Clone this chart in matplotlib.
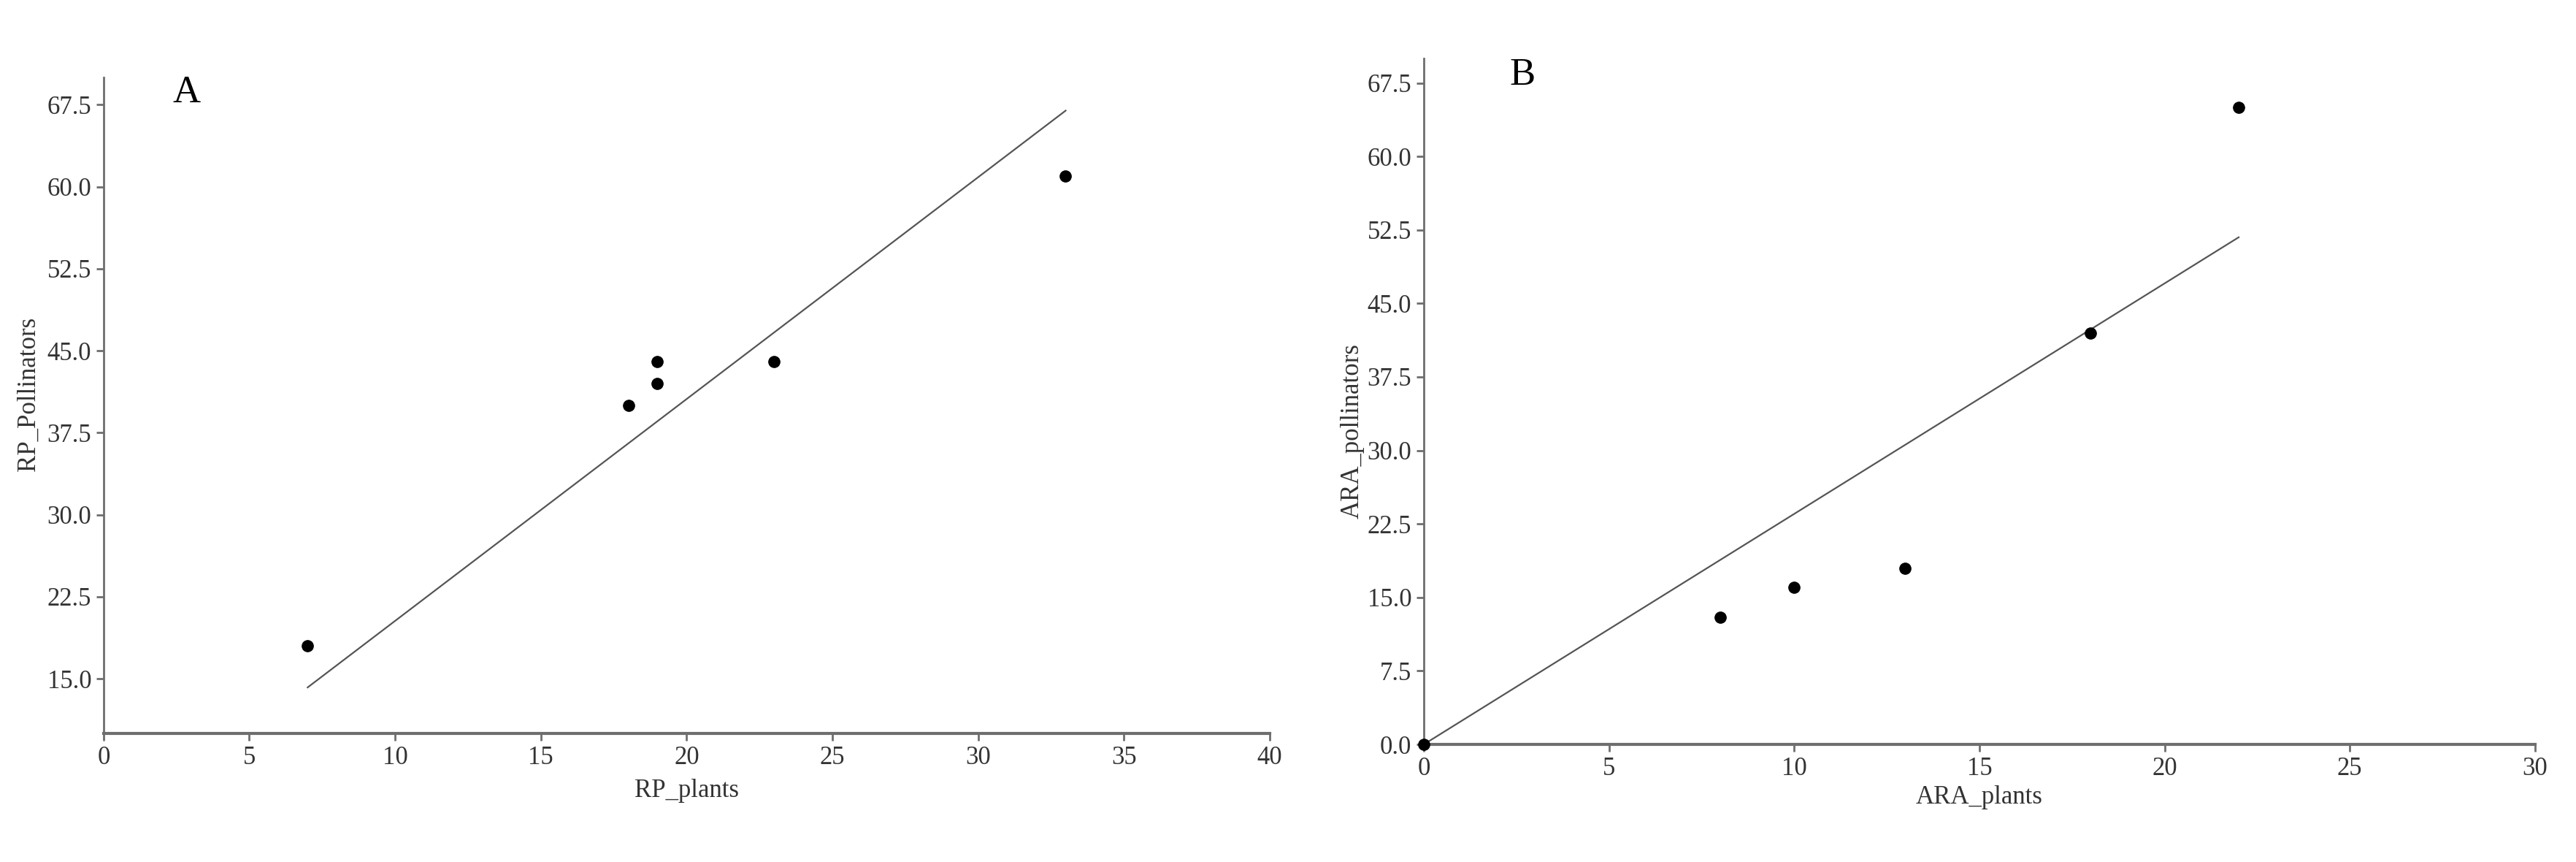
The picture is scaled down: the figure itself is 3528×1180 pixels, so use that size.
import numpy as np
import matplotlib
matplotlib.use('Agg')
import matplotlib.pyplot as plt

plt.rcParams['font.family'] = ['Liberation Serif', 'DejaVu Serif']

## Painel A: RP
rp_plants = [7, 18, 19, 19, 23, 33]
rp_pollinators = [18, 40, 42, 44, 44, 61]
rp_yticks = [15.0, 22.5, 30.0, 37.5, 45.0, 52.5, 60.0, 67.5]
rp_xticks = [0, 5, 10, 15, 20, 25, 30, 35, 40]

## Painel B: ARA
ara_plants = [0, 8, 10, 13, 18, 22]
ara_pollinators = [0, 13, 16, 18, 42, 65]
ara_yticks = [0.0, 7.5, 15.0, 22.5, 30.0, 37.5, 45.0, 52.5, 60.0, 67.5]
ara_xticks = [0, 5, 10, 15, 20, 25, 30]

axis_col = '#6e6e6e'
text_col = '#333333'


def fit_origem(x, y):
    # regressao passando pela origem
    x = np.asarray(x, float)
    y = np.asarray(y, float)
    b = (x * y).sum() / (x * x).sum()
    xs = np.array([x.min(), x.max()])
    return xs, b * xs


def estilo(ax, xlim, ylim, xticks, yticks):
    ax.set_xlim(*xlim)
    ax.set_ylim(*ylim)
    ax.set_xticks(xticks)
    ax.set_xticklabels([str(t) for t in xticks])
    ax.set_yticks(yticks)
    ax.set_yticklabels(['%.1f' % t for t in yticks])
    for s in ['top', 'right']:
        ax.spines[s].set_visible(False)
    ax.spines['left'].set_color(axis_col)
    ax.spines['left'].set_linewidth(2.0)
    ax.spines['bottom'].set_color(axis_col)
    ax.spines['bottom'].set_linewidth(3.0)
    ax.tick_params(axis='both', colors=axis_col, length=7, width=2,
                   labelsize=25, labelcolor=text_col, pad=5)


fig = plt.figure(figsize=(35.28, 11.8), dpi=100)

ax1 = fig.add_axes([0.0402, 0.1492, 0.4527, 0.761])
ax1.plot(rp_plants, rp_pollinators, 'o', color='black', ms=11, clip_on=False, zorder=3)
xs, ys = fit_origem(rp_plants, rp_pollinators)
ax1.plot(xs, ys, color='#555555', lw=1.6)
estilo(ax1, (0, 40), (10, 70), rp_xticks, rp_yticks)
ax1.text(0.5, -0.087, 'RP_plants', transform=ax1.transAxes, ha='center', va='center',
         fontsize=25, color=text_col)
ax1.text(-0.064, 0.517, 'RP_Pollinators', transform=ax1.transAxes, ha='center', va='center',
         rotation=90, fontsize=25, color=text_col)
ax1.text(0.071, 0.977, 'A', transform=ax1.transAxes, ha='center', va='center',
         fontsize=38, color='black')

ax2 = fig.add_axes([0.5527, 0.1364, 0.4314, 0.7958])
ax2.plot(ara_plants, ara_pollinators, 'o', color='black', ms=11, clip_on=False, zorder=3)
xs, ys = fit_origem(ara_plants, ara_pollinators)
ax2.plot(xs, ys, color='#555555', lw=1.6)
estilo(ax2, (0, 30), (0, 70), ara_xticks, ara_yticks)
ax2.text(0.5, -0.077, 'ARA_plants', transform=ax2.transAxes, ha='center', va='center',
         fontsize=25, color=text_col)
ax2.text(-0.064, 0.457, 'ARA_pollinators', transform=ax2.transAxes, ha='center', va='center',
         rotation=90, fontsize=25, color=text_col)
ax2.text(0.089, 0.975, 'B', transform=ax2.transAxes, ha='center', va='center',
         fontsize=38, color='black')

fig.savefig('out.png', dpi=100, facecolor='white')
